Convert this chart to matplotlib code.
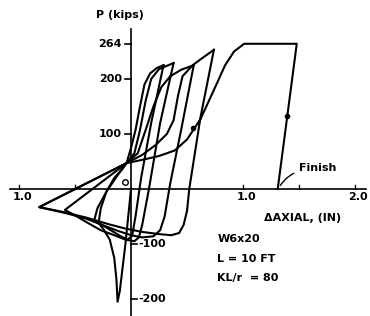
import matplotlib
matplotlib.use("Agg")
import matplotlib.pyplot as plt

# load history, axial deformation (in) vs axial load (kips)
cycle0_x = [0.0, -0.05, -0.10, -0.12, -0.13, -0.15, -0.19, -0.25, -0.29,
            -0.27, -0.22, -0.15, -0.08, -0.04, 0.0, 0.04, 0.08, 0.12, 0.17, 0.23, 0.29]
cycle0_p = [0, -100, -185, -205, -165, -125, -92, -72, -62,
            -35, -5, 20, 36, 47, 75, 107, 150, 190, 210, 220, 225]

cycle1_x = [0.29, 0.18, 0.09, 0.04, 0.01, -0.03, -0.10, -0.18, -0.26, -0.33,
            -0.30, -0.22, -0.12, -0.04, 0.03, 0.08, 0.13, 0.18, 0.25, 0.38]
cycle1_p = [225, 120, 20, -50, -85, -92, -85, -75, -65, -58,
            -35, -5, 25, 47, 65, 107, 160, 200, 218, 229]

cycle2_x = [0.38, 0.26, 0.16, 0.10, 0.07, 0.03, -0.05, -0.15, -0.27, -0.40, -0.50, -0.59,
            -0.04, 0.06, 0.13, 0.20, 0.27, 0.35, 0.45, 0.56]
cycle2_p = [229, 120, 0, -65, -88, -95, -92, -84, -75, -60, -48, -38,
            47, 65, 107, 150, 185, 205, 217, 225]

cycle3_x = [0.56, 0.45, 0.35, 0.30, 0.26, 0.20, 0.10, 0.0, -0.12, -0.25, -0.40, -0.58, -0.82,
            -0.04, 0.10, 0.22, 0.32, 0.38, 0.42, 0.46, 0.55, 0.65, 0.74]
cycle3_p = [225, 110, 10, -50, -75, -86, -88, -84, -76, -66, -54, -44, -33,
            47, 62, 80, 100, 125, 170, 205, 225, 240, 253]

final_x = [0.74, 0.62, 0.52, 0.50, 0.47, 0.43, 0.36, 0.25, 0.10, -0.05, -0.20, -0.40, -0.60, -0.82,
           -0.04, 0.10, 0.25, 0.39, 0.50, 0.62, 0.74, 0.84, 0.92, 1.01, 1.48, 1.31]
final_p = [253, 130, 0, -40, -65, -80, -84, -82, -78, -72, -64, -52, -42, -33,
           47, 53, 60, 70, 90, 127, 180, 225, 250, 264, 264, 0]

dot_x = [1.39, 0.55]
dot_p = [132, 110]
ring_x = [-0.05]
ring_p = [13]

y_ticks = [264, 200, 100, -100, -200]
x_ticks = [-1.0, -0.5, 1.0, 1.5, 2.0]
x_labels = {-1.0: "1.0", 1.0: "1.0", 2.0: "2.0"}

fig = plt.figure(figsize=(3.7, 3.16), dpi=100)
ax = fig.add_axes([0, 0, 1, 1])
ax.set_xlim(-1.170, 2.134)
ax.set_ylim(-230.9, 343.6)
ax.axis("off")

txt = dict(fontsize=8, fontweight="bold", color="black")

# axes
ax.plot([-1.08, 2.10], [0, 0], color="black", lw=1.2)
ax.plot([0, 0], [-235, 290], color="black", lw=1.2)

for v in y_ticks:
    if v > 0:
        ax.plot([-0.05, 0], [v, v], color="black", lw=1.2)
        ax.text(-0.08, v, str(v), ha="right", va="center", **txt)
    else:
        ax.plot([0, 0.05], [v, v], color="black", lw=1.2)
        ax.text(0.07, v, "-" + str(-v), ha="left", va="center", **txt)

for v in x_ticks:
    ax.plot([v, v], [0, 7], color="black", lw=1.0)
    if v in x_labels:
        ax.text(v + 0.03, -6, x_labels[v], ha="center", va="top", **txt)

# hysteresis curves
for xs, ps in [(cycle0_x, cycle0_p), (cycle1_x, cycle1_p), (cycle2_x, cycle2_p),
               (cycle3_x, cycle3_p), (final_x, final_p)]:
    ax.plot(xs, ps, color="black", lw=1.5, solid_joinstyle="round")

ax.plot(dot_x, dot_p, "o", color="black", ms=3)
ax.plot(ring_x, ring_p, "o", mfc="white", mec="black", ms=4, mew=1)

ax.annotate("Finish", xy=(1.32, 2), xytext=(1.50, 38), ha="left", va="center",
            arrowprops=dict(arrowstyle="-", color="black", lw=1.0,
                            connectionstyle="angle3,angleA=0,angleB=60"),
            **txt)

ax.text(-0.10, 316, "P (kips)", ha="center", va="center", **txt)
ax.text(1.53, -53, "\u0394AXIAL, (IN)", ha="center", va="center", **txt)
ax.text(0.77, -91, "W6x20", ha="left", va="center", **txt)
ax.text(0.77, -127, "L = 10 FT", ha="left", va="center", **txt)
ax.text(0.77, -162, "KL/r  = 80", ha="left", va="center", **txt)

fig.savefig("out.png", dpi=100)
